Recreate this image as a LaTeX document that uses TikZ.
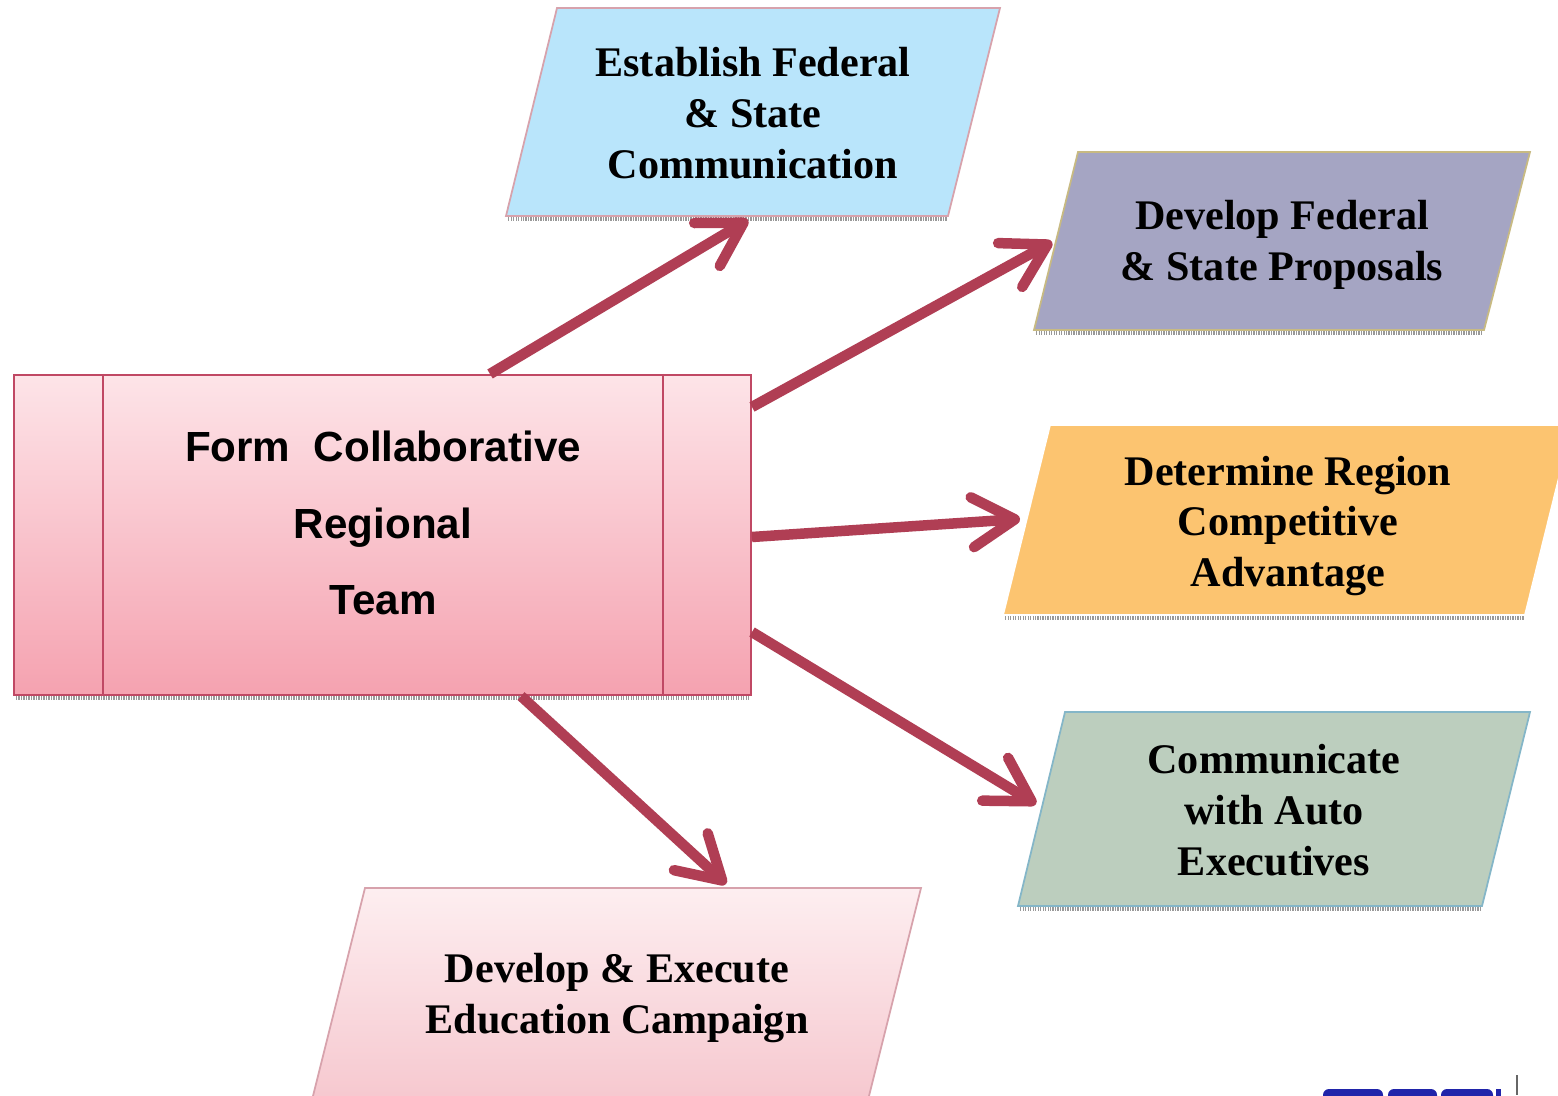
\documentclass[tikz,border=0pt]{standalone}
\usepackage{fontspec}
\setmainfont{Liberation Serif}
\setsansfont{Liberation Sans}
\usetikzlibrary{arrows.meta,calc}

\definecolor{arrowred}{RGB}{176,62,84}
\definecolor{skyfill}{RGB}{185,229,251}
\definecolor{lilacfill}{RGB}{165,165,195}
\definecolor{orangefill}{RGB}{252,196,112}
\definecolor{sagefill}{RGB}{188,206,190}
\definecolor{pinktop}{RGB}{253,238,240}
\definecolor{pinkbot}{RGB}{246,200,207}
\definecolor{teamtop}{RGB}{253,228,232}
\definecolor{teambot}{RGB}{245,162,176}
\definecolor{teamline}{RGB}{192,72,100}
\definecolor{pinkline}{RGB}{215,162,172}
\definecolor{khakiline}{RGB}{200,186,130}
\definecolor{tealline}{RGB}{132,182,200}
\definecolor{logoblue}{RGB}{32,36,170}

\tikzset{
  boxtext/.style={font=\bfseries\fontsize{24}{29}\selectfont, align=center, text=black},
  teamtext/.style={font=\sffamily\bfseries\fontsize{24}{43.7}\selectfont, align=center},
  teambox/.style={draw=teamline, line width=1.2pt, top color=teamtop, bottom color=teambot,
    minimum width=14.74cm, minimum height=6.4cm, inner sep=0pt},
  flow/.style={arrowred, line width=0.21cm, -{Straight Barb[length=8.5mm,width=10mm,round]}},
  shadeline/.style={gray!80, line width=0.07cm, dash pattern=on 0.025cm off 0.025cm},
}

\begin{document}
\begin{tikzpicture}[x=0.02cm,y=-0.02cm]
\clip (0,0) rectangle (1558,1095);
\fill[white] (0,0) rectangle (1558,1095);

% the five target boxes
\draw[shadeline] (508,219)--(947,219);
\filldraw[fill=skyfill, draw=pinkline, line width=1pt] (557,8)--(1000,8)--(948,216)--(506,216)--cycle;
\node[boxtext] (comm) at (753,113) {Establish Federal\\ \& State\\ Communication};

\draw[shadeline] (1036,333)--(1483,333);
\filldraw[fill=lilacfill, draw=khakiline, line width=1pt] (1078,152)--(1530,152)--(1484,330)--(1034,330)--cycle;
\node[boxtext] (prop) at (1282,245) {Develop Federal\\ \& State Proposals};

\draw[shadeline] (1005,618)--(1524,618);
\filldraw[fill=orangefill, draw=white, line width=1pt] (1050,425)--(1572,425)--(1525,615)--(1003,615)--cycle;
\node[boxtext] (adv) at (1288,526) {Determine Region\\ Competitive\\ Advantage};

\draw[shadeline] (1020,909)--(1481,909);
\filldraw[fill=sagefill, draw=tealline, line width=1pt] (1065,712)--(1530,712)--(1482,906)--(1018,906)--cycle;
\node[boxtext] (exec) at (1274,810) {Communicate\\ with Auto\\ Executives};

\filldraw[top color=pinktop, bottom color=pinkbot, draw=pinkline, line width=1pt] (365,888)--(921,888)--(868,1100)--(312,1100)--cycle;
\node[boxtext] (edu) at (617,998) {Develop \& Execute\\ Education Campaign};

% central team box
\draw[shadeline] (16,698)--(750,698);
\node[teambox] (team) at (382.5,535) {};
\draw[teamline, line width=1.2pt] ($(team.north west)+(90,0)$) -- ($(team.south west)+(90,0)$);
\draw[teamline, line width=1.2pt] ($(team.north east)+(-89,0)$) -- ($(team.south east)+(-89,0)$);
\node[teamtext] (teamlbl) at (383,523) {Form\ \ Collaborative\\ Regional\\ Team};

% entry points on the boxes
\coordinate (comm-in) at (748,220);
\coordinate (prop-in) at (1052,242);
\coordinate (adv-in) at (1020,519);
\coordinate (exec-in) at (1036,804);
\coordinate (edu-in) at (726,884);

\draw[flow] (490,0 |- team.north) -- (comm-in);
\draw[flow] (team.east |- 0,407) -- (prop-in);
\draw[flow] (team.east |- 0,537) -- (adv-in);
\draw[flow] (team.east |- 0,632) -- (exec-in);
\draw[flow] (521,0 |- team.south) -- (edu-in);

% logo at the lower edge
\fill[logoblue, rounded corners=0.12cm] (1323,1089) rectangle (1383,1110);
\fill[logoblue, rounded corners=0.12cm] (1388,1089) rectangle (1437,1110);
\fill[logoblue, rounded corners=0.12cm] (1441,1089) rectangle (1493,1110);
\fill[logoblue] (1496,1089) rectangle (1501,1110);
\draw[gray!80!black, line width=1.5pt] (1517,1075) -- (1517,1095);
\end{tikzpicture}
\end{document}
